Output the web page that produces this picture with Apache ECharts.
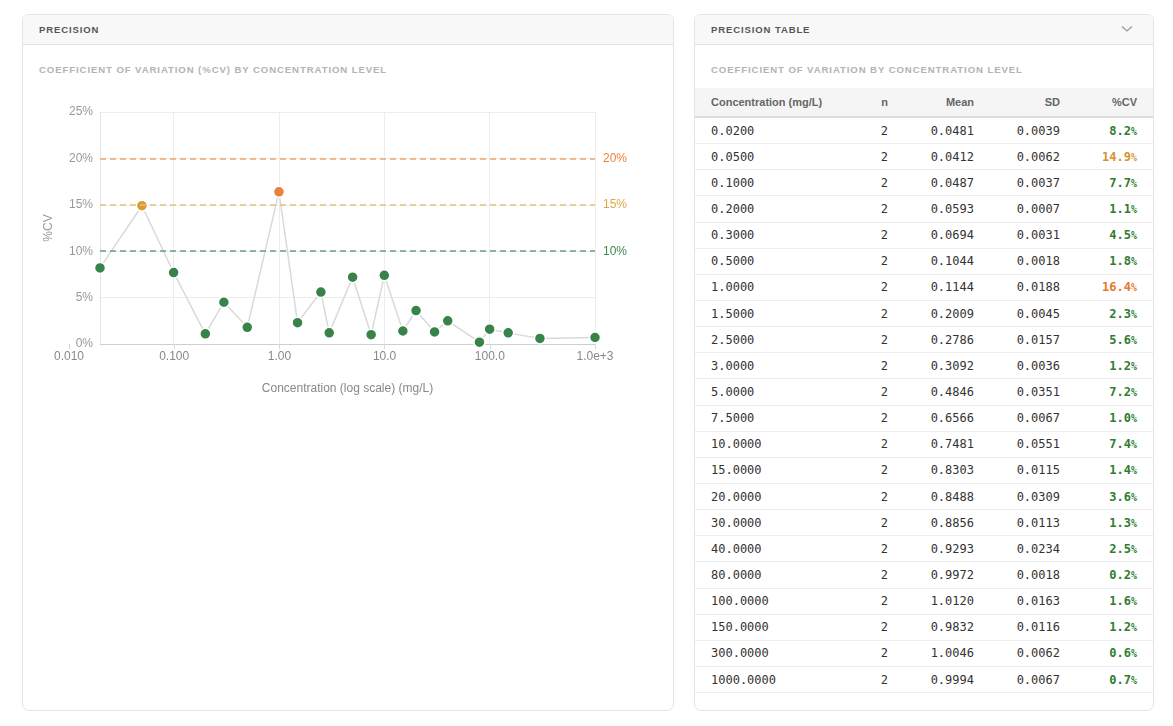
<!DOCTYPE html>
<html>
<head>
<meta charset="utf-8">
<script src="https://cdn.jsdelivr.net/npm/echarts@6/dist/echarts.min.js"></script>
<style>
  html, body { margin: 0; padding: 0; background: #ffffff; width: 1173px; height: 726px; overflow: hidden; font-family: "Liberation Sans", Arial, sans-serif; }
  .card { position: absolute; box-sizing: border-box; border: 1px solid #e4e4e4; border-radius: 7px; background: #fff; overflow: hidden; }
  .card-head { height: 30px; box-sizing: border-box; background: #f8f8f8; border-bottom: 1px solid #e2e2e2; padding-left: 16px; line-height: 29px; font-size: 9.5px; font-weight: bold; letter-spacing: 0.9px; color: #555; position: relative; }
  .sub { position: absolute; left: 16px; top: 49px; font-size: 9.6px; font-weight: bold; letter-spacing: 0.9px; color: #b3b3b3; }
  #chart { position: absolute; left: 23px; top: 45px; width: 650px; height: 664px; }
  table { position: absolute; left: 0; top: 73px; width: 458px; border-collapse: collapse; table-layout: fixed; }
  th { height: 28px; background: #f5f5f5; border-bottom: 2px solid #dcdcdc; font-family: "Liberation Sans", Arial, sans-serif; font-size: 11px; font-weight: bold; color: #666; text-align: right; padding: 0 16px 0 0; }
  th:first-child, td:first-child { text-align: left; padding: 0 0 0 16px; }
  td { height: 25.15px; border-bottom: 1px solid #ececec; font-family: "DejaVu Sans Mono", monospace; font-size: 12px; color: #333; text-align: right; padding: 0 16px 0 0; }
  td.cv { font-weight: bold; }
  td.cv span { font-size: 10px; }
  .chev { position: absolute; right: 20px; top: 10px; }
</style>
</head>
<body>
<div class="card" style="left:22px; top:14px; width:652px; height:697px;">
  <div class="card-head">PRECISION</div>
  <div class="sub">COEFFICIENT OF VARIATION (%CV) BY CONCENTRATION LEVEL</div>
</div>
<div id="chart"></div>
<div class="card" style="left:694px; top:14px; width:460px; height:697px;">
  <div class="card-head">PRECISION TABLE
    <svg class="chev" width="12" height="8" viewBox="0 0 12 8"><polyline points="1,1.5 6,6 11,1.5" fill="none" stroke="#999" stroke-width="1.3"/></svg>
  </div>
  <div class="sub">COEFFICIENT OF VARIATION BY CONCENTRATION LEVEL</div>
  <table id="tbl">
    <colgroup><col style="width:150px"><col style="width:59px"><col style="width:86px"><col style="width:86px"><col style="width:77px"></colgroup>
    <thead><tr><th>Concentration (mg/L)</th><th>n</th><th>Mean</th><th>SD</th><th>%CV</th></tr></thead>
    <tbody></tbody>
  </table>
</div>
<script>
// ---- data ----
var concentrations = [0.02, 0.05, 0.1, 0.2, 0.3, 0.5, 1.0, 1.5, 2.5, 3.0, 5.0, 7.5, 10, 15, 20, 30, 40, 80, 100, 150, 300, 1000];
var nValues = [2, 2, 2, 2, 2, 2, 2, 2, 2, 2, 2, 2, 2, 2, 2, 2, 2, 2, 2, 2, 2, 2];
var means = [0.0481, 0.0412, 0.0487, 0.0593, 0.0694, 0.1044, 0.1144, 0.2009, 0.2786, 0.3092, 0.4846, 0.6566, 0.7481, 0.8303, 0.8488, 0.8856, 0.9293, 0.9972, 1.0120, 0.9832, 1.0046, 0.9994];
var sds = [0.0039, 0.0062, 0.0037, 0.0007, 0.0031, 0.0018, 0.0188, 0.0045, 0.0157, 0.0036, 0.0351, 0.0067, 0.0551, 0.0115, 0.0309, 0.0113, 0.0234, 0.0018, 0.0163, 0.0116, 0.0062, 0.0067];
var cvValues = [8.2, 14.9, 7.7, 1.1, 4.5, 1.8, 16.4, 2.3, 5.6, 1.2, 7.2, 1.0, 7.4, 1.4, 3.6, 1.3, 2.5, 0.2, 1.6, 1.2, 0.6, 0.7];
var thresholds = [20, 15, 10];
var thresholdLabels = ['20%', '15%', '10%'];
var xTickValues = [0.01, 0.1, 1, 10, 100, 1000];
var xTickLabels = ['0.010', '0.100', '1.00', '10.0', '100.0', '1.0e+3'];

// ---- styles ----
var GREEN = '#38834a', GOLD = '#d99b32', ORANGE = '#e8823a';
function cvColor(v) { return v > 15 ? ORANGE : (v >= 10 ? GOLD : GREEN); }
function cvTextColor(v) { return v > 15 ? '#e8782a' : (v >= 10 ? '#d4962a' : '#2e7d32'); }
var thresholdLine = ['#f0a36e', '#e6c07a', '#6e9c7c'];
var thresholdText = ['#e8853a', '#e0a844', '#3f8a50'];

// ---- table ----
var tb = document.querySelector('#tbl tbody');
concentrations.forEach(function (c, i) {
  var tr = document.createElement('tr');
  tr.innerHTML = '<td>' + c.toFixed(4) + '</td><td>' + nValues[i] + '</td><td>' + means[i].toFixed(4) +
    '</td><td>' + sds[i].toFixed(4) + '</td><td class="cv" style="color:' + cvTextColor(cvValues[i]) + '">' +
    cvValues[i].toFixed(1) + '<span>%</span></td>';
  tb.appendChild(tr);
});

// ---- chart ----
var chart = echarts.init(document.getElementById('chart'), null, { renderer: 'canvas' });
var seriesData = concentrations.map(function (c, i) { return [c, cvValues[i]]; });
function tickLabel(v) {
  var k = Math.round(Math.log10(v)) + 2;
  return xTickLabels[k] !== undefined ? xTickLabels[k] : '';
}
chart.setOption({
  animation: false,
  grid: [
    { left: 77, top: 67, width: 495, height: 232 },
    { left: 46, top: 67, width: 526, height: 232 }
  ],
  xAxis: [
    {
      type: 'log', gridIndex: 0, logBase: 10, min: 0.02, max: 1000,
      name: 'Concentration (log scale) (mg/L)', nameLocation: 'middle', nameGap: 39,
      nameTextStyle: { color: '#888', fontSize: 12, fontFamily: 'Liberation Sans' },
      axisLine: { show: true, lineStyle: { color: '#cfcfcf', width: 1 } },
      axisTick: { show: false },
      axisLabel: { show: false },
      splitLine: { show: true, lineStyle: { color: '#ececec', width: 1 } }
    },
    {
      type: 'log', gridIndex: 1, logBase: 10, min: xTickValues[0], max: xTickValues[xTickValues.length - 1],
      axisLine: { show: false },
      axisTick: { show: true, length: 5, lineStyle: { color: '#d8d8d8' } },
      axisLabel: { show: true, color: '#888', fontSize: 12, margin: 7, fontFamily: 'Liberation Sans', formatter: tickLabel },
      splitLine: { show: false }
    }
  ],
  yAxis: [
    {
      type: 'value', gridIndex: 0, min: 0, max: 25, interval: 5,
      name: '%CV', nameLocation: 'middle', nameGap: 45,
      nameTextStyle: { color: '#999', fontSize: 12, fontFamily: 'Liberation Sans' },
      axisLine: { show: true, lineStyle: { color: '#e2e2e2' } },
      axisTick: { show: false },
      axisLabel: { color: '#999', fontSize: 12, margin: 7, fontFamily: 'Liberation Sans', formatter: '{value}%' },
      splitLine: { show: true, lineStyle: { color: '#ececec' } }
    },
    { type: 'value', gridIndex: 1, min: 0, max: 1, show: false }
  ],
  series: [{
    type: 'line', xAxisIndex: 0, yAxisIndex: 0,
    data: seriesData,
    symbol: 'circle', symbolSize: 11,
    lineStyle: { color: '#d9d9d9', width: 1.5 },
    itemStyle: {
      color: function (p) { return cvColor(p.value[1]); },
      borderColor: '#ffffff', borderWidth: 1.5
    },
    z: 3,
    markLine: {
      silent: true, symbol: ['none', 'none'],
      data: thresholds.map(function (t, i) {
        return {
          yAxis: t,
          lineStyle: { color: thresholdLine[i], type: [6, 4], width: 1.5 },
          label: { show: true, position: 'end', distance: 8, formatter: thresholdLabels[i], color: thresholdText[i], fontSize: 12, fontFamily: 'Liberation Sans' }
        };
      })
    }
  }]
});
</script>
</body>
</html>
